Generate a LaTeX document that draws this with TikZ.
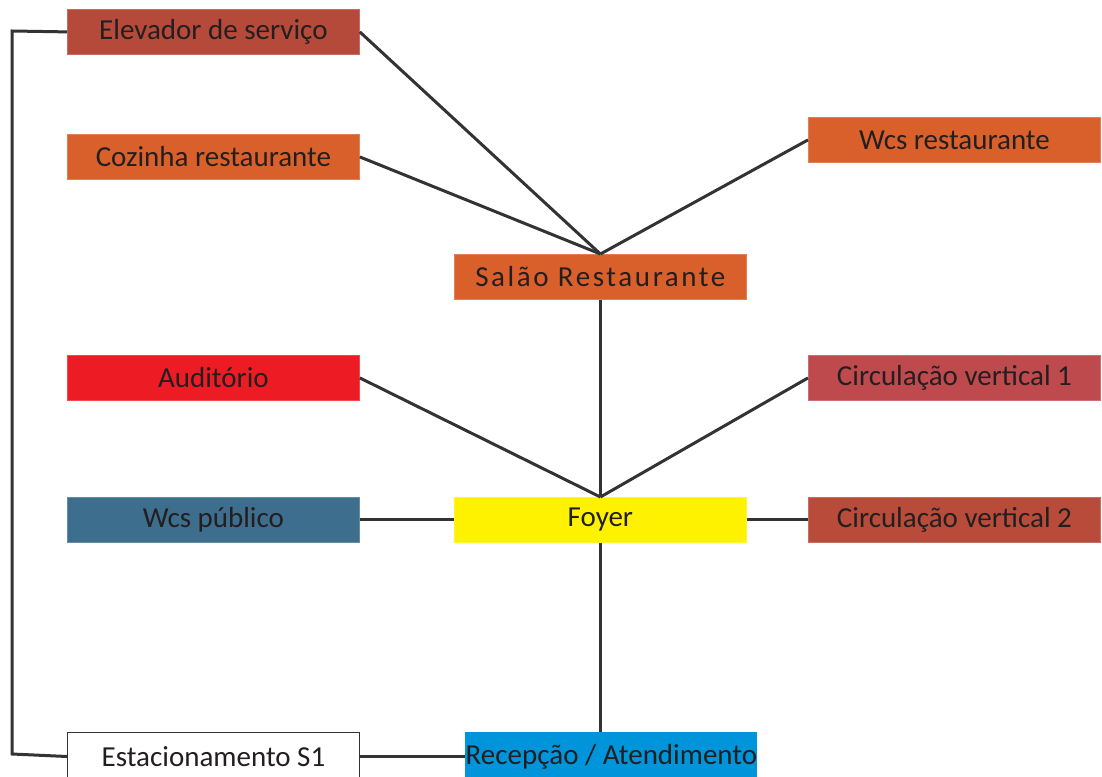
\documentclass[tikz,border=0pt]{standalone}
\usepackage{fontspec}
\setmainfont{Carlito}
\definecolor{elev}{HTML}{B5493A}
\definecolor{orng}{HTML}{D9602A}
\definecolor{audi}{HTML}{ED1C24}
\definecolor{circA}{HTML}{BE4A4D}
\definecolor{circB}{HTML}{B84B3A}
\definecolor{wcsp}{HTML}{3E6E8E}
\definecolor{foy}{HTML}{FFF200}
\definecolor{recp}{HTML}{0095DA}
\definecolor{txt}{HTML}{231F20}
\definecolor{ln}{HTML}{333333}
\begin{document}
\begin{tikzpicture}[x=1pt,y=-1pt,
  box/.style={minimum width=292pt,minimum height=45pt,inner sep=0pt,anchor=north west,
    text=txt,font=\fontsize{29}{34}\selectfont,draw=#1!80!white,line width=0.8pt,fill=#1},
  conn/.style={draw=ln,line width=3pt}]
\useasboundingbox (0,0) rectangle (1102,776);
\node[box=elev] (elev) at (67,9) {Elevador de serviço};
\node[box=orng] (coz) at (67,134) {Cozinha restaurante};
\node[box=orng] (wcsr) at (808,117) {Wcs restaurante};
\node[box=orng,font=\fontsize{29}{34}\selectfont\addfontfeature{LetterSpace=9}] (salao) at (454,254) {Salão Restaurante};
\node[box=audi] (aud) at (67,355) {Auditório};
\node[box=circA] (circ1) at (808,355) {Circulação vertical 1};
\node[box=wcsp] (wcsp) at (67,497) {Wcs público};
\node[box=foy] (foyer) at (454,497) {Foyer};
\node[box=circB] (circ2) at (808,497) {Circulação vertical 2};
\node[box=white,draw=ln,line width=1pt,minimum height=48pt] (est) at (67,732) {Estacionamento S1};
\node[box=recp,draw=none,minimum height=48pt,font=\fontsize{29}{34}\selectfont] (rec) at (465,732) {Recepção / Atendimento};
\coordinate (sj) at (salao.north);
\coordinate (fj) at (foyer.north);
\draw[conn] (elev.east) -- (sj);
\draw[conn] (coz.east) -- (sj);
\draw[conn] (wcsr.west) -- (sj);
\draw[conn] (salao.south) -- (fj);
\draw[conn] (aud.east) -- (fj);
\draw[conn] (circ1.west) -- (fj);
\draw[conn] (wcsp.east) -- (foyer.west);
\draw[conn] (foyer.east) -- (circ2.west);
\draw[conn] (foyer.south) -- (foyer.south |- rec.north);
\draw[conn] (est.east) -- (est.east -| rec.west);
\draw[conn] (elev.west) -- (12,31) -- (12,754) -- (est.west);
\end{tikzpicture}
\end{document}
